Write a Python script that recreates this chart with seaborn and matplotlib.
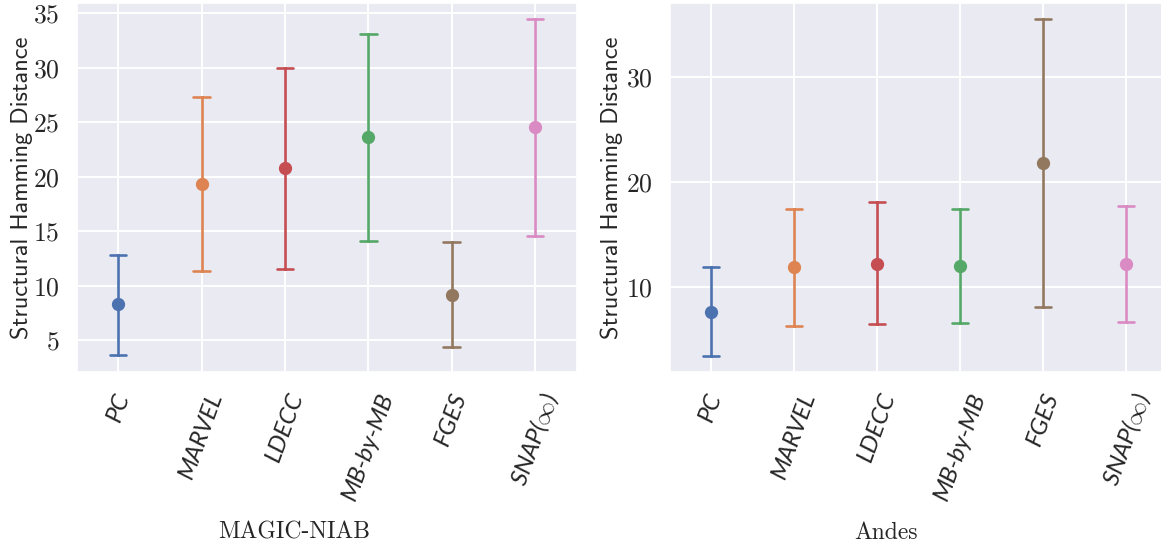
import numpy as np
import pandas as pd
import seaborn as sns
import matplotlib.pyplot as plt

methods = ["PC", "MARVEL", "LDECC", "MB-by-MB", "FGES", "SNAP($\\infty$)"]

magic_mean = [8.27, 19.37, 20.77, 23.64, 9.18, 24.55]
magic_low = [3.67, 11.38, 11.53, 14.12, 4.33, 14.58]
magic_high = [12.84, 27.30, 30.00, 33.12, 14.03, 34.50]

andes_mean = [7.68, 11.90, 12.24, 12.05, 21.83, 12.24]
andes_low = [3.48, 6.32, 6.49, 6.64, 8.10, 6.73]
andes_high = [11.93, 17.46, 18.07, 17.44, 35.50, 17.72]

datasets = ["MAGIC-NIAB", "Andes"]

sns.set_theme(style="darkgrid")
plt.rcParams["font.family"] = ["cmr10", "DejaVu Serif"]
plt.rcParams["mathtext.fontset"] = "cm"
plt.rcParams["axes.formatter.use_mathtext"] = True
plt.rcParams["axes.unicode_minus"] = False

deep = sns.color_palette("deep")
palette = [deep[0], deep[1], deep[3], deep[2], deep[5], deep[6]]


def long_frame(mean, low, high):
    rows = []
    for m, a, b, c in zip(methods, low, mean, high):
        for v in (a, b, c):
            rows.append({"method": m, "shd": v})
    return pd.DataFrame(rows)


fig = plt.figure(figsize=(11.61, 5.48), dpi=100)
W, H = 1161, 548
ax1 = fig.add_axes([76.5 / W, (H - 372) / H, 500 / W, 369 / H])
ax2 = fig.add_axes([669.5 / W, (H - 372) / H, 498 / W, 369 / H])

for ax, name, (mn, lo, hi), xl in [
    (ax1, datasets[0], (magic_mean, magic_low, magic_high), 0.436),
    (ax2, datasets[1], (andes_mean, andes_low, andes_high), 0.434),
]:
    df = long_frame(mn, lo, hi)
    sns.pointplot(
        data=df, x="method", y="shd", hue="method",
        order=methods, hue_order=methods, palette=palette,
        estimator="median", errorbar=lambda v: (v.min(), v.max()),
        linestyle="none", markers="o", markersize=7.5,
        capsize=0.2, err_kws={"linewidth": 1.9},
        dodge=False, legend=False, ax=ax,
    )
    ax.set_xticks(range(len(methods)))
    ax.set_xticklabels(methods, rotation=70, fontsize=17.5,
                       fontfamily="Lato", fontstyle="italic")
    ax.tick_params(axis="x", pad=7)
    ax.tick_params(axis="y", labelsize=18.5, pad=6)
    ax.set_xlabel(name, fontsize=17)
    ax.xaxis.set_label_coords(xl, -0.405)
    ax.set_ylabel("Structural Hamming Distance", fontsize=17.5,
                  fontfamily="cmss10")
    ax.grid(linewidth=1.4)

ax1.yaxis.set_label_coords(-0.087, 0.5)
ax2.yaxis.set_label_coords(-0.093, 0.5)
ax1.set_yticks([5, 10, 15, 20, 25, 30, 35])
ax1.set_ylim(2.07, 35.96)
ax2.set_yticks([10, 20, 30])
ax2.set_ylim(1.96, 37.0)

fig.savefig("out.png", dpi=100)
